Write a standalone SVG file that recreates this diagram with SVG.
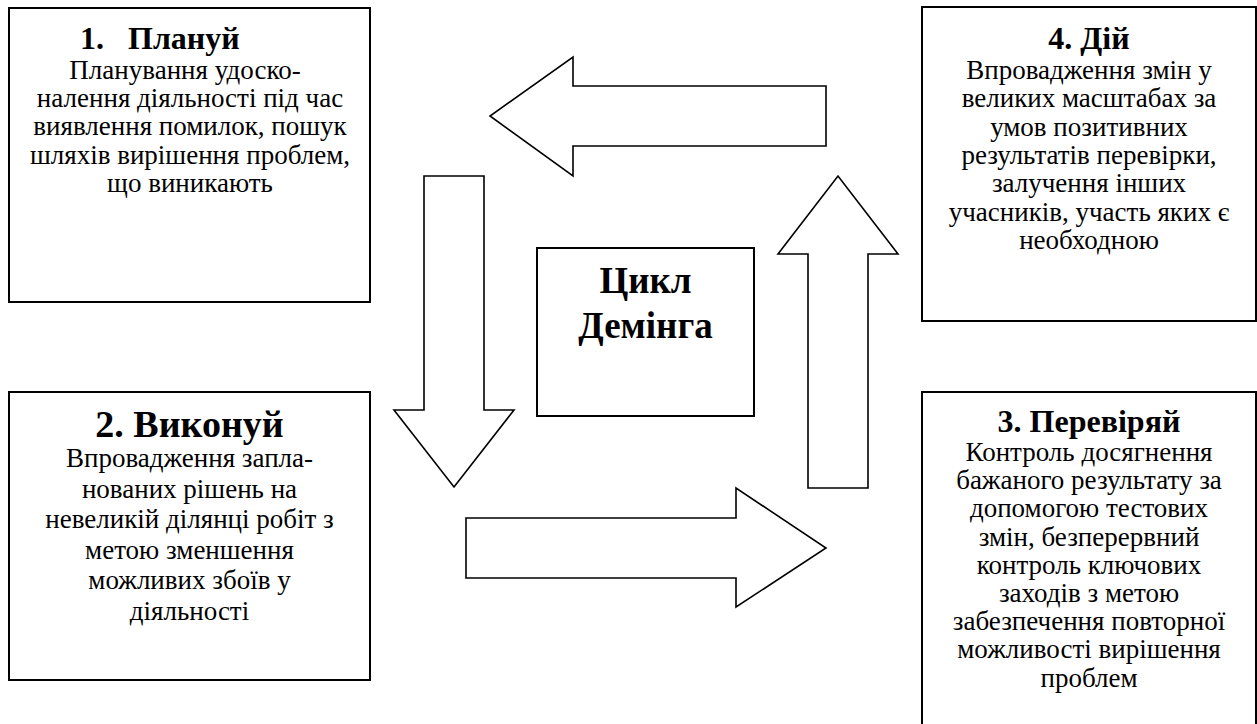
<svg xmlns="http://www.w3.org/2000/svg" width="1257" height="724" viewBox="0 0 1257 724">
  <style>
    .box { fill: #fff; stroke: #000; stroke-width: 2; }
    .arrow { fill: #fff; stroke: #000; stroke-width: 1.6; stroke-linejoin: miter; }
    text { font-family: "Liberation Serif", "Times New Roman", serif; fill: #000; }
    .head { font-weight: bold; font-size: 32px; }
    .head2 { font-weight: bold; font-size: 38px; }
    .body { font-size: 27px; text-anchor: middle; }
    .centre { font-weight: bold; font-size: 37px; text-anchor: middle; }
  </style>
  <rect width="1257" height="724" fill="#fff"/>

  <!-- cycle arrows -->
  <g id="connectors">
    <path class="arrow" d="M826,86 L573,86 L573,57 L490,116 L573,176 L573,146 L826,146 Z"/>
    <path class="arrow" d="M424,176 L484,176 L484,410 L514,410 L454,487 L394,410 L424,410 Z"/>
    <path class="arrow" d="M466,518 L736,518 L736,488 L826,548 L736,607 L736,578 L466,578 Z"/>
    <path class="arrow" d="M808,488 L808,254 L778,254 L838,176 L898,254 L868,254 L868,488 Z"/>
  </g>

  <!-- 1. Plan -->
  <g id="plan">
    <rect class="box" x="9" y="8" width="361" height="294"/>
    <text class="head" y="49"><tspan x="80">1.</tspan><tspan x="128">Плануй</tspan></text>
    <text class="body" y="79"><tspan x="185">Планування удоско-</tspan><tspan x="190" dy="28.2">налення діяльності під час</tspan><tspan x="190" dy="28.2">виявлення помилок, пошук</tspan><tspan x="190" dy="28.2">шляхів вирішення проблем,</tspan><tspan x="190" dy="28.2">що виникають</tspan></text>
  </g>

  <!-- 2. Do -->
  <g id="do">
    <rect class="box" x="9" y="392" width="361" height="288"/>
    <text class="head2" x="189.5" y="437" text-anchor="middle">2. Виконуй</text>
    <text class="body" y="467"><tspan x="189.5">Впровадження запла-</tspan><tspan x="189.5" dy="30.5">нованих рішень на</tspan><tspan x="189.5" dy="30.5">невеликій ділянці робіт з</tspan><tspan x="189.5" dy="30.5">метою зменшення</tspan><tspan x="189.5" dy="30.5">можливих збоїв у</tspan><tspan x="189.5" dy="30.5">діяльності</tspan></text>
  </g>

  <!-- 3. Check -->
  <g id="check">
    <rect class="box" x="922" y="392" width="334" height="345"/>
    <text class="head" x="1089" y="432" text-anchor="middle">3. Перевіряй</text>
    <text class="body" y="461"><tspan x="1089">Контроль досягнення</tspan><tspan x="1089" dy="28.2">бажаного результату за</tspan><tspan x="1089" dy="28.2">допомогою тестових</tspan><tspan x="1089" dy="28.2">змін, безперервний</tspan><tspan x="1089" dy="28.2">контроль ключових</tspan><tspan x="1089" dy="28.2">заходів з метою</tspan><tspan x="1089" dy="28.2">забезпечення повторної</tspan><tspan x="1089" dy="28.2">можливості вирішення</tspan><tspan x="1089" dy="28.2">проблем</tspan></text>
  </g>

  <!-- 4. Act -->
  <g id="act">
    <rect class="box" x="922" y="7" width="334" height="314"/>
    <text class="head" x="1089" y="49" text-anchor="middle">4. Дій</text>
    <text class="body" y="79"><tspan x="1089">Впровадження змін у</tspan><tspan x="1089" dy="28.3">великих масштабах за</tspan><tspan x="1089" dy="28.3">умов позитивних</tspan><tspan x="1089" dy="28.3">результатів перевірки,</tspan><tspan x="1089" dy="28.3">залучення інших</tspan><tspan x="1089" dy="28.3">учасників, участь яких є</tspan><tspan x="1089" dy="28.3">необходною</tspan></text>
  </g>

  <!-- centre -->
  <g id="deming-cycle">
    <rect class="box" x="537" y="248" width="217" height="168"/>
    <text class="centre" y="293"><tspan x="645.5">Цикл</tspan><tspan x="645.5" dy="45">Демінга</tspan></text>
  </g>
</svg>
